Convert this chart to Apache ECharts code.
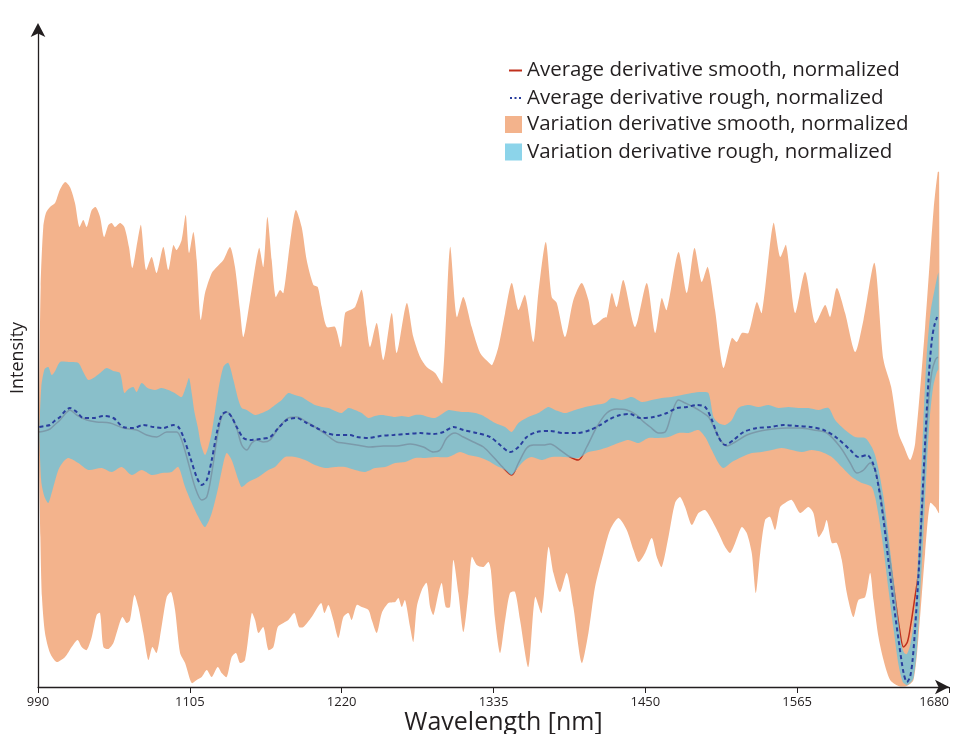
<!DOCTYPE html>
<html>
<head>
<meta charset="utf-8">
<title>Derivative spectra</title>
<script src="https://cdn.jsdelivr.net/npm/echarts@6.0.0/dist/echarts.min.js"></script>
<style>
  html, body { margin: 0; padding: 0; background: #fff; }
  #chart { width: 968px; height: 734px; }
</style>
</head>
<body>
<div id="chart"></div>
<script>
// x axis ticks (wavelength, nm)
const xTicks = [990, 1105, 1220, 1335, 1450, 1565, 1680]

const seriesNames = [
    'Average derivative smooth, normalized',
    'Average derivative rough, normalized',
    'Variation derivative smooth, normalized',
    'Variation derivative rough, normalized'
]

// [wavelength, intensity] - upper edge of the smooth variation band
const smoothVarUpper = [[990.8,270],[992,400],[994,460],[996,474],[999.1,480],[1002.9,484],[1006.5,497],[1010.5,505],[1014.2,500],[1018,484],[1021.3,460],[1024.3,467],[1026.9,460],[1030.7,477],[1033.7,480],[1037,470],[1040,450],[1043.3,462],[1045.8,464],[1048.3,460],[1052.1,464],[1055.4,460],[1058.9,440],[1061.5,419],[1065.5,447],[1068,462],[1071.8,417],[1076.1,430],[1079.9,414],[1084.9,440],[1088.7,417],[1092.5,442],[1095,437],[1098.8,447],[1101.9,472],[1104.4,434],[1107.7,455],[1110.2,427],[1113.2,367],[1116.5,394],[1121.6,414],[1125.4,420],[1130.4,427],[1135.5,440],[1139.2,420],[1143,377],[1145.6,350],[1150.6,387],[1157.4,439],[1160.7,420],[1163.7,470],[1167,427],[1170,390],[1173.3,397],[1175.9,394],[1180.9,444],[1185.2,477],[1189.7,460],[1193.5,427],[1198.6,402],[1201.9,400],[1204.9,380],[1208.7,360],[1215,360],[1219.5,340],[1222.6,374],[1226.4,377],[1230.2,380],[1235.2,397],[1239,360],[1241.5,340],[1246.6,364],[1251.6,327],[1257.9,374],[1261.7,334],[1269.3,384],[1274.3,350],[1279.4,330],[1284.4,320],[1290.8,314],[1296.3,304],[1302.1,440],[1307.2,370],[1312.2,390],[1318.5,360],[1324.9,334],[1331,325],[1334,322],[1338.7,340],[1343.8,374],[1348.8,404],[1353.9,377],[1358.9,392],[1365.2,345],[1369,394],[1374.6,445],[1379.1,390],[1382.9,384],[1389.2,350],[1395.5,387],[1401.8,404],[1406.9,387],[1410.7,362],[1418.3,369],[1420.8,370],[1424.6,394],[1428.3,380],[1433.4,407],[1442.2,360],[1451.1,404],[1457.4,354],[1462.4,389],[1466.2,377],[1475.1,435],[1481.4,394],[1487.2,439],[1492.7,405],[1497.3,420],[1502.8,377],[1509.1,319],[1515.5,349],[1519.2,345],[1523.1,354],[1528.1,354],[1534.4,385],[1538.2,374],[1547,464],[1552.1,430],[1556.6,442],[1563.4,374],[1571,415],[1578.6,364],[1586.2,382],[1590,370],[1595,399],[1601.3,374],[1608.9,335],[1615.2,367],[1623.6,424],[1630.4,327],[1636.2,300],[1641.7,254],[1646,240],[1650.6,227],[1654.4,244],[1661.9,360],[1668.3,477],[1671.5,515],[1672.5,515]]

// lower edge of the smooth variation band
const smoothVarLower = [[990.8,230],[991.8,150],[993,90],[995.3,54],[999.1,34],[1004.1,25],[1010.5,30],[1015.5,40],[1020,47],[1023.1,40],[1026.9,37],[1030.7,50],[1034.4,72],[1037,74],[1039.5,40],[1043.3,38],[1047.1,44],[1050.9,60],[1053.9,70],[1057.2,64],[1059.7,67],[1063,92],[1066,80],[1069.8,54],[1073.6,27],[1076.6,40],[1079.9,34],[1083.2,57],[1087.5,90],[1090.8,95],[1093.8,77],[1097.6,34],[1101.4,24],[1106.4,4],[1110.2,7],[1114,10],[1117.8,17],[1121.6,10],[1126.1,20],[1129.1,14],[1132.9,10],[1136.7,30],[1140,34],[1143,24],[1146.8,27],[1151.9,74],[1154.4,67],[1156.9,54],[1160.7,60],[1164.5,37],[1168.3,40],[1171.6,60],[1175.9,64],[1179.6,67],[1184.2,74],[1187.7,60],[1191,60],[1197.3,70],[1204.4,84],[1206.9,74],[1210,82],[1213.7,67],[1217.5,49],[1221.3,70],[1225.1,74],[1227.6,67],[1231.4,82],[1235.2,80],[1240.3,77],[1242.8,67],[1246.6,54],[1250.4,74],[1255.4,84],[1260.5,85],[1263,89],[1265.5,80],[1268,87],[1271.8,60],[1274.3,45],[1276.9,80],[1280.7,97],[1284.4,104],[1287,80],[1289.5,72],[1293.3,94],[1295.8,104],[1298.8,80],[1302.1,80],[1304.6,127],[1308.4,94],[1312.2,55],[1316,94],[1318.5,130],[1322.3,122],[1327.4,120],[1331.2,125],[1333,117],[1336.2,67],[1340,34],[1343.8,67],[1347.5,94],[1351.3,95],[1355.1,67],[1361.4,20],[1366.5,90],[1371.5,74],[1376.6,140],[1380.4,114],[1385.4,95],[1390.5,114],[1395.5,80],[1401.8,24],[1406.9,54],[1411.9,100],[1418.3,134],[1423.3,157],[1429.6,169],[1435.9,157],[1441,137],[1444.8,125],[1449.8,134],[1454.9,149],[1458.7,130],[1462.4,120],[1467.5,150],[1472.5,184],[1476.3,190],[1480.1,180],[1485.2,162],[1490.2,174],[1495.3,177],[1500.3,167],[1505.4,154],[1510.4,140],[1514.2,134],[1518,144],[1523,160],[1526.8,154],[1530.6,134],[1533.7,94],[1537,134],[1540.7,167],[1544.5,170],[1548.3,157],[1552.1,180],[1555.9,184],[1560.9,187],[1567.2,174],[1573.5,180],[1577.3,174],[1581.1,150],[1584.9,157],[1587.4,167],[1591.2,144],[1595,144],[1598.8,127],[1602.6,94],[1607.6,70],[1611.4,87],[1616.5,90],[1620.3,114],[1622.8,87],[1626.6,50],[1630.4,27],[1635.4,7],[1641.7,1],[1648.1,1],[1653.1,7],[1656.9,50],[1661.9,134],[1665.7,184],[1669.5,180],[1672.5,174]]

// upper / lower edge of the rough variation band
const roughVarUpper = [[991,255],[992.5,300],[995,318],[997.8,320],[1000.4,312],[1003,316],[1006.7,325],[1013,325],[1020.6,324],[1024.3,315],[1028.1,307],[1032,309],[1037,314],[1042,319],[1047,316],[1052.1,314],[1055.4,294],[1058.5,298],[1062.2,300],[1064.7,295],[1068.5,304],[1073,299],[1078.6,297],[1083.5,299],[1088.7,297],[1093.5,294],[1098.8,290],[1102,300],[1104.4,309],[1106.4,294],[1108.5,275],[1111,260],[1113.5,242],[1116.5,232],[1119,240],[1121.5,254],[1124,275],[1126.6,297],[1130.4,320],[1134.2,324],[1138,307],[1141.8,287],[1144.3,279],[1148.1,277],[1154.4,272],[1159.5,274],[1164.5,277],[1169.5,282],[1174.6,287],[1179.6,294],[1184.5,292],[1189.7,290],[1194.5,286],[1199.8,282],[1205,280],[1210,279],[1215,276],[1220,274],[1225.1,279],[1230,277],[1235.2,274],[1240.3,269],[1245,271],[1250.4,272],[1255.5,271],[1260.5,270],[1265.5,271],[1270.6,270],[1275.5,272],[1280.7,272],[1285.5,270],[1290.8,269],[1296,273],[1300.9,277],[1306,276],[1311,275],[1316,275],[1321.1,274],[1326,272],[1331.2,268],[1336.2,264],[1343.8,260],[1348.8,255],[1353.9,264],[1361.4,270],[1369,274],[1376.6,280],[1381.6,277],[1389.2,274],[1396.8,277],[1404.4,280],[1411.9,282],[1419.5,284],[1424.6,289],[1432.1,287],[1439.7,290],[1447.3,285],[1454.9,287],[1462.4,289],[1470,290],[1477.6,292],[1485.2,294],[1492.7,295],[1497.8,294],[1501.6,270],[1505.4,264],[1510.4,262],[1515.5,267],[1520.5,279],[1528.1,282],[1535.7,280],[1543.3,282],[1550.8,279],[1558.4,280],[1566,279],[1573.5,279],[1581.1,277],[1588.7,279],[1593.8,267],[1601.3,257],[1608.9,250],[1616.5,249],[1621.5,240],[1624,232],[1626.6,218],[1630.4,190],[1634.2,150],[1638,108],[1641.8,65],[1644,42],[1646,34],[1648.1,33],[1650.6,42],[1653,62],[1655.5,100],[1658,180],[1660.5,262],[1663,330],[1666,375],[1669.5,400],[1672,414]]

const roughVarLower = [[991,250],[992.5,205],[995,190],[997.8,184],[1001.6,200],[1005.4,217],[1009,225],[1013,229],[1020.6,224],[1028.1,217],[1038.2,219],[1045.8,215],[1053.4,220],[1061,212],[1068.5,217],[1076.1,212],[1083.7,214],[1091.3,215],[1096.3,220],[1101.4,200],[1106.4,184],[1111.5,170],[1116.5,160],[1121.6,174],[1126.6,200],[1130.4,224],[1132.9,234],[1136.7,227],[1141.8,207],[1144.3,200],[1149.3,205],[1156.9,210],[1164.5,217],[1169.5,220],[1177.1,230],[1184.7,230],[1192.3,227],[1199.8,222],[1207.4,219],[1215,220],[1222.6,220],[1230.2,217],[1237.7,215],[1245.3,219],[1252.9,220],[1260.5,224],[1268,225],[1275.6,229],[1283.2,229],[1290.8,230],[1300.9,230],[1309.7,235],[1316,232],[1323.6,230],[1331.2,226],[1336.2,222],[1343.8,217],[1348.8,212],[1353.9,220],[1358.9,227],[1364,230],[1371.5,227],[1379.1,230],[1389.2,230],[1399.3,229],[1406.9,235],[1414.5,237],[1422,240],[1429.6,244],[1437.2,247],[1444.8,244],[1452.3,249],[1459.9,249],[1467.5,250],[1475.1,254],[1482.6,254],[1490.2,257],[1495.3,250],[1500.3,237],[1505.4,224],[1509.1,219],[1515.5,225],[1523,230],[1530.6,234],[1538.2,235],[1545.8,237],[1553.3,239],[1560.9,237],[1568.5,235],[1576.1,237],[1583.6,235],[1591.2,230],[1598.8,220],[1606.4,210],[1614,204],[1616.5,203],[1621.5,200],[1624,190],[1626.6,172],[1630.4,138],[1634.2,97],[1638,58],[1641.8,22],[1645,5],[1648.1,2],[1650.6,4],[1653.1,9],[1655.7,38],[1658.2,92],[1660.7,155],[1663.2,222],[1665.5,270],[1668,300],[1670.8,315],[1672,318]]

// average derivative, smooth samples
const smoothAvg = [[991,255],[995,256],[999.1,258],[1002.5,262],[1006.7,267],[1010.5,273],[1014.2,277],[1019.3,272],[1026.9,267],[1034.4,265],[1044.5,264],[1054.6,259],[1064.7,257],[1072.3,252],[1079.9,250],[1087.5,255],[1095,255],[1098.8,247],[1103.9,224],[1108.9,200],[1114,187],[1117.8,190],[1121.6,214],[1125.4,247],[1129.1,270],[1132.9,275],[1136.7,270],[1140.5,259],[1144.3,242],[1148.1,237],[1151.9,244],[1155.7,247],[1160.7,245],[1165.8,247],[1172.1,259],[1179.6,269],[1186,270],[1193.5,265],[1201.1,259],[1208.7,252],[1216.3,245],[1221.3,244],[1231.4,242],[1241.5,240],[1251.6,241],[1261.7,241],[1271.8,243],[1281.9,240],[1289.5,235],[1294.5,237],[1299.6,249],[1305.9,254],[1312.2,250],[1319.8,245],[1327.4,240],[1334.9,230],[1342.5,219],[1348.8,212],[1353.9,224],[1360.2,239],[1365.2,242],[1372.8,242],[1377.9,243],[1385.4,237],[1393,230],[1399.3,227],[1405.6,240],[1413.2,260],[1420.8,274],[1428.4,278],[1436,277],[1443.5,272],[1448,266],[1453.7,260],[1460,254],[1465,255],[1470.1,274],[1475.1,287],[1480.2,284],[1486.5,280],[1492.8,275],[1497.9,270],[1502.9,257],[1508,245],[1511.8,241],[1518.1,245],[1526.9,252],[1537,256],[1547.1,258],[1557.2,259],[1567.3,259],[1577.4,257],[1587.5,254],[1597.6,240],[1605.2,224],[1610.2,214],[1615.3,217],[1620.3,224],[1624.1,217],[1627.9,194],[1631.7,162],[1635.5,125],[1639.3,88],[1642.5,58],[1645.5,40],[1648.5,45],[1651,62],[1654,88],[1656.9,115],[1659.5,170],[1662,230],[1664.5,285],[1667,315],[1669.6,327],[1671.5,330]]

// average derivative, rough samples
const roughAvg = [[991,260],[995,261],[999.1,262],[1002.5,266],[1006.7,270],[1010.5,276],[1014.2,279],[1019.3,275],[1024.3,269],[1031.9,269],[1039.5,271],[1047.1,269],[1054.6,260],[1062.2,259],[1069.8,262],[1077.4,260],[1084.9,259],[1092.5,262],[1096.3,260],[1100.1,250],[1105.2,230],[1110.2,210],[1114,202],[1117.8,207],[1121.6,227],[1125.4,254],[1129.1,272],[1132.9,275],[1136.7,270],[1140.5,260],[1145.6,249],[1150.6,247],[1158.2,248],[1165.8,250],[1172.1,259],[1178.4,267],[1186,269],[1193.5,264],[1201.1,259],[1208.7,254],[1216.3,252],[1226.4,252],[1231.4,250],[1240.2,249],[1249.1,251],[1259.2,252],[1269.3,253],[1279.4,254],[1289.5,253],[1297.1,255],[1304.6,260],[1312.2,257],[1322.3,254],[1332.4,250],[1340,242],[1347.6,235],[1353.9,240],[1360.2,250],[1367.8,255],[1377.9,256],[1388,254],[1398.1,254],[1408.2,257],[1415.8,262],[1423.3,268],[1430.9,272],[1438.5,273],[1446.1,269],[1456.2,270],[1466.3,274],[1473.9,279],[1481.5,280],[1489,282],[1495.3,280],[1500.4,267],[1505.4,250],[1510.5,242],[1516.8,247],[1524.4,255],[1534.5,259],[1544.6,260],[1554.7,262],[1564.8,261],[1574.9,260],[1585,257],[1595.1,249],[1605.2,237],[1611.5,230],[1617.8,232],[1622.9,222],[1626.7,200],[1630.4,167],[1634.2,125],[1638,84],[1641.8,47],[1645.6,14],[1648.1,5],[1650.5,10],[1652.5,28],[1654.4,60],[1657,114],[1659.5,180],[1662,247],[1664.5,307],[1667,347],[1669,362],[1671,370]]

const ORANGE = '#f3b38c'
const BLUE = 'rgba(96, 196, 226, 0.72)'
const RED = '#c0301c'
const NAVY = '#2a3f9e'
const INK = '#231f20'
const FONT = 'Open Sans'

// band between an upper and a lower edge, drawn as one polygon
function band (name, upper, lower, color, z) {
    return {
        type: 'custom',
        name: name,
        z: z,
        silent: true,
        itemStyle: { color: color },
        data: [upper[0]],
        renderItem: function (params, api) {
            let pts = []
            for (let i = 0; i < upper.length; i++) {
                pts.push(api.coord(upper[i]))
            }
            for (let j = lower.length - 1; j >= 0; j--) {
                pts.push(api.coord(lower[j]))
            }
            return {
                type: 'polygon',
                shape: { points: pts, smooth: 0.25 },
                style: { fill: color, stroke: null }
            }
        }
    }
}

let legendText = { fontFamily: FONT, fontSize: 20.5, color: INK }

let myChart = echarts.init(document.getElementById('chart'))
myChart.setOption({
    animation: false,
    backgroundColor: '#fff',
    grid: { left: 38, right: 19, top: 29, bottom: 47, outerBoundsMode: 'none', containLabel: false },
    legend: [
        {
            data: [
                { name: seriesNames[0], icon: 'rect' },
                { name: seriesNames[1], icon: 'path://M0,0h2v2h-2zM4.5,0h2v2h-2zM9,0h2v2h-2z' }
            ],
            orient: 'vertical',
            left: 504,
            top: 55,
            itemWidth: 13,
            itemHeight: 2,
            itemGap: 6.5,
            selectedMode: false,
            textStyle: legendText
        },
        {
            data: [{ name: seriesNames[2], icon: 'rect' }, { name: seriesNames[3], icon: 'rect' }],
            orient: 'vertical',
            left: 500,
            top: 109,
            itemWidth: 17,
            itemHeight: 17,
            itemGap: 6.5,
            selectedMode: false,
            textStyle: legendText
        }
    ],
    xAxis: {
        type: 'value',
        min: xTicks[0],
        max: xTicks[xTicks.length - 1],
        interval: xTicks[1] - xTicks[0],
        z: 10,
        name: 'Wavelength [nm]',
        nameLocation: 'middle',
        nameGap: 23,
        nameMoveOverlap: false,
        nameTextStyle: { fontFamily: FONT, fontSize: 25, color: INK, padding: [0, 0, 0, 20] },
        axisLine: {
            lineStyle: { color: INK, width: 1.3 },
            symbol: ['none', 'arrow'],
            symbolSize: [11, 14]
        },
        axisTick: { length: 6, lineStyle: { color: INK } },
        axisLabel: {
            margin: 9,
            alignMaxLabel: 'right',
            formatter: function (v) { return String(v) },
            fontFamily: FONT,
            fontSize: 13,
            color: INK
        },
        splitLine: { show: false }
    },
    yAxis: {
        type: 'value',
        min: 0,
        max: 658,
        z: 10,
        name: 'Intensity',
        nameLocation: 'middle',
        nameRotate: 90,
        nameGap: 11,
        nameMoveOverlap: false,
        nameTextStyle: { fontFamily: FONT, fontSize: 18, color: INK },
        axisLine: {
            show: true,
            lineStyle: { color: INK, width: 1.3 },
            symbol: ['none', 'arrow'],
            symbolSize: [11, 14],
            symbolOffset: [0, 6]
        },
        axisTick: { show: false },
        axisLabel: { show: false },
        splitLine: { show: false }
    },
    series: [
        band(seriesNames[2], smoothVarUpper, smoothVarLower, ORANGE, 1),
        {
            type: 'line',
            name: seriesNames[0],
            z: 2,
            data: smoothAvg,
            smooth: 0.3,
            symbol: 'none',
            itemStyle: { color: RED },
            lineStyle: { color: RED, width: 1.5 }
        },
        band(seriesNames[3], roughVarUpper, roughVarLower, BLUE, 3),
        {
            type: 'line',
            name: seriesNames[1],
            z: 4,
            data: roughAvg,
            smooth: 0.3,
            symbol: 'none',
            itemStyle: { color: NAVY },
            lineStyle: { color: NAVY, width: 2, type: [4, 3] }
        }
    ]
})
</script>
</body>
</html>
